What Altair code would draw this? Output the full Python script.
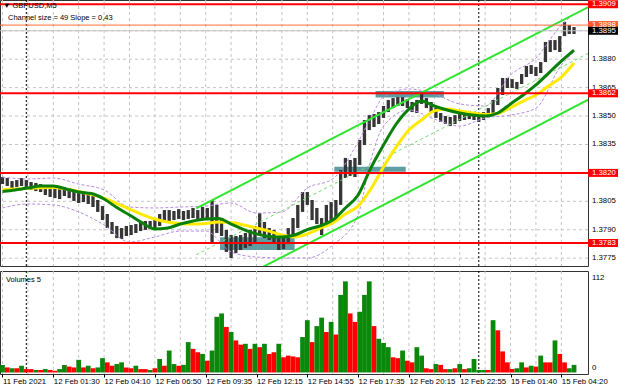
import altair as alt
import pandas as pd

FONT = "Liberation Sans"
FS = 7.8

# ---------------- data ----------------
TICK_LABELS = ["11 Feb 2021", "12 Feb 01:30", "12 Feb 04:10", "12 Feb 06:50", "12 Feb 09:35",
               "12 Feb 12:15", "12 Feb 14:55", "12 Feb 17:35", "12 Feb 20:15", "12 Feb 22:55",
               "15 Feb 01:40", "15 Feb 04:20"]
TICK_STEP = 32          # bars between time labels
GRID_STEP = 16          # bars between vertical grid lines
DAY_BREAKS = [15, 300]  # bar index of 12 Feb 00:00 and 15 Feb 00:00

PRICE_GRID = [1.3775, 1.3790, 1.3805, 1.3820, 1.3835, 1.3850, 1.3865, 1.3880, 1.3895]
PRICE_AXIS = [1.3775, 1.3790, 1.3805, 1.3835, 1.3850, 1.3865, 1.3880]

BAR_STEP = 3  # bars per drawn price / volume entry
HIGH = [1.38178, 1.38173, 1.38157, 1.38162, 1.38173, 1.38162, 1.38152, 1.38147, 1.38141, 1.38131,
        1.38120, 1.38120, 1.38115, 1.38126, 1.38120, 1.38104, 1.38099, 1.38104, 1.38094, 1.38078,
        1.38057, 1.38025, 1.37983, 1.37941, 1.37920, 1.37909, 1.37920, 1.37925, 1.37930, 1.37941,
        1.37946, 1.37946, 1.37957, 1.37983, 1.38004, 1.38004, 1.37999, 1.38009, 1.37999, 1.38004,
        1.38015, 1.38004, 1.38020, 1.38015, 1.38057, 1.38031, 1.37962, 1.37899, 1.37872, 1.37867,
        1.37872, 1.37883, 1.37899, 1.37920, 1.37988, 1.37941, 1.37909, 1.37899, 1.37867, 1.37878,
        1.37909, 1.37962, 1.38031, 1.38099, 1.38099, 1.38057, 1.38015, 1.37962, 1.38031, 1.38046,
        1.38057, 1.38215, 1.38279, 1.38268, 1.38279, 1.38374, 1.38479, 1.38505, 1.38511, 1.38521,
        1.38553, 1.38585, 1.38595, 1.38600, 1.38600, 1.38590, 1.38574, 1.38585, 1.38622, 1.38595,
        1.38574, 1.38542, 1.38516, 1.38500, 1.38495, 1.38505, 1.38516, 1.38521, 1.38527, 1.38521,
        1.38516, 1.38521, 1.38542, 1.38585, 1.38648, 1.38701, 1.38701, 1.38695, 1.38680, 1.38722,
        1.38764, 1.38769, 1.38759, 1.38785, 1.38891, 1.38901, 1.38901, 1.38922, 1.38996, 1.38980,
        1.38970]
LOW = [1.38141, 1.38131, 1.38120, 1.38126, 1.38131, 1.38120, 1.38110, 1.38104, 1.38099, 1.38083,
       1.38073, 1.38067, 1.38062, 1.38078, 1.38067, 1.38052, 1.38041, 1.38046, 1.38036, 1.38020,
       1.37994, 1.37951, 1.37909, 1.37878, 1.37856, 1.37851, 1.37867, 1.37872, 1.37883, 1.37893,
       1.37899, 1.37904, 1.37904, 1.37920, 1.37941, 1.37946, 1.37951, 1.37957, 1.37951, 1.37957,
       1.37962, 1.37957, 1.37962, 1.37951, 1.37835, 1.37883, 1.37867, 1.37783, 1.37751, 1.37777,
       1.37793, 1.37804, 1.37814, 1.37835, 1.37872, 1.37856, 1.37846, 1.37825, 1.37793, 1.37798,
       1.37825, 1.37867, 1.37909, 1.37994, 1.38031, 1.37951, 1.37930, 1.37872, 1.37925, 1.37951,
       1.37951, 1.38031, 1.38173, 1.38184, 1.38178, 1.38242, 1.38347, 1.38426, 1.38442, 1.38458,
       1.38490, 1.38521, 1.38542, 1.38553, 1.38553, 1.38542, 1.38521, 1.38516, 1.38564, 1.38542,
       1.38521, 1.38490, 1.38469, 1.38458, 1.38447, 1.38458, 1.38474, 1.38479, 1.38484, 1.38479,
       1.38469, 1.38479, 1.38495, 1.38516, 1.38558, 1.38611, 1.38648, 1.38648, 1.38643, 1.38669,
       1.38706, 1.38722, 1.38711, 1.38727, 1.38785, 1.38838, 1.38848, 1.38838, 1.38922, 1.38933,
       1.38933]
VOLUME = [9, 6, 5, 5, 8, 4, 4, 3, 3, 4,
          3, 2, 4, 9, 7, 6, 15, 6, 8, 5,
          6, 17, 12, 8, 10, 12, 6, 5, 8, 4,
          4, 3, 5, 16, 8, 26, 10, 8, 9, 36,
          28, 24, 22, 14, 26, 66, 70, 54, 48, 38,
          33, 34, 28, 34, 30, 34, 22, 24, 34, 18,
          20, 19, 18, 42, 62, 36, 55, 65, 48, 60,
          45, 92, 108, 70, 60, 72, 92, 108, 55, 40,
          35, 30, 18, 17, 26, 14, 12, 30, 20, 5,
          4, 10, 9, 4, 4, 5, 10, 4, 5, 16,
          3, 3, 3, 62, 50, 25, 12, 4, 5, 12,
          6, 8, 7, 20, 12, 12, 38, 22, 12, 5, 9]
VOL_DIR = ("grgrgrrgrg" "rrggrrgrgr" "ggrrggrrgr" "rgrgrggrgg" "rrgrgggrgr" "rgrgrgrrgr"
           "rrrggrggrg" "rggrrgggrg" "ggrrgrrggr" "rgrrgrgrgg" "ggrgrrrrgg" "rgrgrrgrrgg")

MA_STEP = 8
MA_FAST = [1.38102, 1.38110, 1.38120, 1.38131, 1.38131, 1.38115, 1.38099, 1.38091, 1.38062, 1.38017,
           1.37978, 1.37936, 1.37904, 1.37909, 1.37930, 1.37946, 1.37957, 1.37959, 1.37930, 1.37901,
           1.37878, 1.37865, 1.37862, 1.37872, 1.37901, 1.37920, 1.37951, 1.38015, 1.38083, 1.38226,
           1.38347, 1.38458, 1.38537, 1.38579, 1.38553, 1.38532, 1.38516, 1.38505, 1.38500, 1.38516,
           1.38564, 1.38611, 1.38664, 1.38727, 1.38790, 1.38848]
MA_SLOW = [1.38112, 1.38115, 1.38119, 1.38122, 1.38123, 1.38115, 1.38102, 1.38086, 1.38067, 1.38038,
           1.38009, 1.37980, 1.37957, 1.37941, 1.37932, 1.37930, 1.37933, 1.37941, 1.37938, 1.37925,
           1.37909, 1.37893, 1.37872, 1.37862, 1.37878, 1.37907, 1.37936, 1.37983, 1.38025, 1.38115,
           1.38231, 1.38337, 1.38426, 1.38479, 1.38527, 1.38537, 1.38527, 1.38516, 1.38508, 1.38513,
           1.38545, 1.38579, 1.38611, 1.38659, 1.38706, 1.38780]

BB_IDX = [0, 16, 32, 48, 64, 80, 96, 112, 128, 144, 160, 176, 192, 208, 224, 232, 240, 256, 272,
          288, 304, 320, 336, 352, 360]
BB_UP = [1.38178, 1.38168, 1.38173, 1.38141, 1.38110, 1.38020, 1.38015, 1.38020, 1.38025, 1.38041,
         1.37988, 1.37994, 1.38120, 1.38168, 1.38363, 1.38490, 1.38600, 1.38643, 1.38617, 1.38564,
         1.38553, 1.38717, 1.38806, 1.38980, 1.39038]
BB_LO = [1.38015, 1.38036, 1.38031, 1.37994, 1.37925, 1.37835, 1.37862, 1.37893, 1.37893, 1.37783,
         1.37756, 1.37751, 1.37751, 1.37819, 1.37978, 1.38268, 1.38447, 1.38532, 1.38484, 1.38447,
         1.38490, 1.38505, 1.38542, 1.38769, 1.38838]

CH_IDX = [122, 369]
CH_UPPER = [1.38013, 1.39075]
CH_LOWER = [1.37523, 1.38586]
CH_MID = [1.37768, 1.38831]

BOX_X0 = [137, 209, 235]
BOX_X1 = [184, 254, 278]
BOX_P0 = [1.37793, 1.38206, 1.38598]
BOX_P1 = [1.37860, 1.38233, 1.38632]

LEVEL_P = [1.3909, 1.3862, 1.3820, 1.3783, 1.3898, 1.3895]
LEVEL_C = ["#ff0000", "#ff0000", "#ff0000", "#ff0000", "#ff6a3a", "#c4c4c4"]
LEVEL_W = [2, 2, 2, 2, 1, 1]

TAG_P = [1.3909, 1.3898, 1.3895, 1.3862, 1.3820, 1.3783]
TAG_C = ["#ff0000", "#ff5a30", "#000000", "#ff0000", "#ff0000", "#ff0000"]

VOL_LABELS = [112, 0]
TITLE = "\u25bc GBPUSD,M5"
SUBTITLE = "Channel size = 49 Slope = 0,43"
VOL_TITLE = "Volumes 5"

# ---------------- layout ----------------
W = 588
H_PRICE = 266
H_VOL = 103
X_DOMAIN = [-1.57, 368.8]
P_DOMAIN = [1.377087, 1.391124]
V_DOMAIN = [-1.8, 120.3]

xs = alt.Scale(domain=X_DOMAIN, nice=False, zero=False)
ys = alt.Scale(domain=P_DOMAIN, nice=False, zero=False)
vs = alt.Scale(domain=V_DOMAIN, nice=False, zero=False)

GRID_COLOR = "#c4c4c4"
LIME = "#2fe62f"
DARK_GREEN = "#0a800a"
YELLOW = "#ffea00"
VIOLET = "#b98be6"
TEAL = "#5f9ea0"
VOL_GREEN = "#0a880a"
VOL_RED = "#ff0000"

n_ticks = len(TICK_LABELS)
tick_values = [TICK_STEP * k for k in range(n_ticks)]
grid_values = list(range(0, tick_values[-1] + 1, GRID_STEP))
label_array = "[" + ",".join("'" + t + "'" for t in TICK_LABELS) + "]"

grid_df = pd.DataFrame({"i": grid_values})
day_df = pd.DataFrame({"i": DAY_BREAKS})
pgrid_df = pd.DataFrame({"p": PRICE_GRID})
bar_idx = [BAR_STEP * k for k in range(len(HIGH))]
price_df = pd.DataFrame({"i": bar_idx, "hi": HIGH, "lo": LOW})
vol_df = pd.DataFrame({"i": bar_idx, "v": VOLUME, "c": list(VOL_DIR)})
ma_idx = [MA_STEP * k for k in range(len(MA_FAST))]
fast_df = pd.DataFrame({"i": ma_idx, "p": MA_FAST})
slow_df = pd.DataFrame({"i": ma_idx, "p": MA_SLOW})
bb_df = pd.concat([pd.DataFrame({"i": BB_IDX, "p": BB_UP, "s": "up"}),
                   pd.DataFrame({"i": BB_IDX, "p": BB_LO, "s": "lo"})])
ch_df = pd.concat([pd.DataFrame({"i": CH_IDX, "p": CH_UPPER, "s": "up"}),
                   pd.DataFrame({"i": CH_IDX, "p": CH_LOWER, "s": "lo"})])
mid_df = pd.DataFrame({"i": CH_IDX, "p": CH_MID})
box_df = pd.DataFrame({"x0": BOX_X0, "x1": BOX_X1, "p0": BOX_P0, "p1": BOX_P1})
lvl_df = pd.DataFrame({"p": LEVEL_P, "c": LEVEL_C, "w": LEVEL_W})
axis_df = pd.DataFrame({"p": PRICE_AXIS, "t": [f"{p:.4f}" for p in PRICE_AXIS]})
tag_df = pd.DataFrame({"p": TAG_P, "c": TAG_C, "t": [f"{p:.4f}" for p in TAG_P], "o": list(range(len(TAG_P)))})

X = lambda f: alt.X(f, scale=xs, axis=None)
Y = lambda f: alt.Y(f, scale=ys, axis=None)

vgrid = alt.Chart(grid_df).mark_rule(color=GRID_COLOR, strokeDash=[3, 3], strokeWidth=1).encode(x=X("i:Q"))
days = alt.Chart(day_df).mark_rule(color="#000000", strokeDash=[2, 2], strokeWidth=1).encode(x=X("i:Q"))
hgrid = alt.Chart(pgrid_df).mark_rule(color=GRID_COLOR, strokeDash=[3, 3], strokeWidth=1).encode(y=Y("p:Q"))
boxes = alt.Chart(box_df).mark_rect(color=TEAL).encode(x=X("x0:Q"), x2="x1:Q", y=Y("p0:Q"), y2="p1:Q")
bars = alt.Chart(price_df).mark_rule(color="#363636", strokeWidth=3.3).encode(x=X("i:Q"), y=Y("lo:Q"), y2="hi:Q")
bands = alt.Chart(bb_df).mark_line(color=VIOLET, strokeDash=[3, 2], strokeWidth=1, interpolate="monotone", clip=True).encode(
    x=X("i:Q"), y=Y("p:Q"), detail="s:N")
channel = alt.Chart(ch_df).mark_line(color=LIME, strokeWidth=2, clip=True).encode(x=X("i:Q"), y=Y("p:Q"), detail="s:N")
mid = alt.Chart(mid_df).mark_line(color="#6ee06e", strokeWidth=1, strokeDash=[3, 3], clip=True).encode(x=X("i:Q"), y=Y("p:Q"))
slow = alt.Chart(slow_df).mark_line(color=YELLOW, strokeWidth=3, interpolate="monotone").encode(x=X("i:Q"), y=Y("p:Q"))
fast = alt.Chart(fast_df).mark_line(color=DARK_GREEN, strokeWidth=3, interpolate="monotone").encode(x=X("i:Q"), y=Y("p:Q"))
levels = alt.Chart(lvl_df).mark_rule().encode(
    y=Y("p:Q"), color=alt.Color("c:N", scale=None), strokeWidth=alt.StrokeWidth("w:Q", scale=None))
axis_txt = alt.Chart(axis_df).mark_text(align="left", baseline="middle", font=FONT, fontSize=FS, color="#000000").encode(
    x=alt.value(592), y=Y("p:Q"), text="t:N")
BOX_SHAPE = "M-1,-0.2667L1,-0.2667L1,0.2667L-1,0.2667Z"
tag_box = alt.Chart(tag_df).mark_point(shape=BOX_SHAPE, filled=True, opacity=1, size=900, strokeWidth=0).encode(
    x=alt.value(603), y=Y("p:Q"), color=alt.Color("c:N", scale=None), order="o:Q")
tag_txt = alt.Chart(tag_df).mark_text(align="left", baseline="middle", font=FONT, fontSize=FS, color="#ffffff").encode(
    x=alt.value(592), y=Y("p:Q"), text="t:N", order="o:Q")
title = alt.Chart(pd.DataFrame({"t": [TITLE]})).mark_text(
    align="left", baseline="middle", font=FONT, fontSize=7.5, color="#000000").encode(
    x=alt.value(3), y=alt.value(6), text="t:N")
subtitle = alt.Chart(pd.DataFrame({"t": [SUBTITLE]})).mark_text(
    align="left", baseline="middle", font=FONT, fontSize=7.5, color="#000000").encode(
    x=alt.value(8), y=alt.value(18), text="t:N")

price_chart = alt.layer(vgrid, hgrid, days, boxes, bars, bands, mid, channel, slow, fast, levels,
                        axis_txt, tag_box, tag_txt, title, subtitle).properties(width=W, height=H_PRICE)

xaxis = alt.Axis(values=tick_values, labelExpr=label_array + "[round(datum.value/" + str(TICK_STEP) + ")]",
                 grid=False, domain=False, ticks=True, tickSize=3, tickColor="#000000", title=None,
                 labelFont=FONT, labelFontSize=FS, labelColor="#000000", labelAlign="left",
                 labelBaseline="top", labelPadding=0, labelOverlap=False, labelFlush=False, labelBound=False)
XV = lambda f: alt.X(f, scale=xs, axis=xaxis)
YV = lambda f: alt.Y(f, scale=vs, axis=None)

v_grid = alt.Chart(grid_df).mark_rule(color=GRID_COLOR, strokeDash=[3, 3], strokeWidth=1).encode(x=XV("i:Q"))
v_days = alt.Chart(day_df).mark_rule(color="#000000", strokeDash=[2, 2], strokeWidth=1).encode(x=XV("i:Q"))
v_bars = alt.Chart(vol_df).transform_calculate(
    x0="datum.i - " + str(BAR_STEP / 2), x1="datum.i + " + str(BAR_STEP / 2)
).mark_rect().encode(
    x=XV("x0:Q"), x2="x1:Q", y=YV("v:Q"), y2=alt.datum(0),
    color=alt.Color("c:N", scale=alt.Scale(domain=["g", "r"], range=[VOL_GREEN, VOL_RED]), legend=None))
v_title = alt.Chart(pd.DataFrame({"t": [VOL_TITLE]})).mark_text(
    align="left", baseline="middle", font=FONT, fontSize=7.5, color="#000000").encode(
    x=alt.value(6), y=alt.value(8.5), text="t:N")
v_top = alt.Chart(pd.DataFrame({"v": [VOL_LABELS[0]], "t": [str(VOL_LABELS[0])]})).mark_text(
    align="left", baseline="middle", font=FONT, fontSize=FS, color="#000000").encode(
    x=alt.value(592), y=YV("v:Q"), text="t:N")
v_zero = alt.Chart(pd.DataFrame({"v": [VOL_LABELS[1]], "t": [str(VOL_LABELS[1])]})).mark_text(
    align="left", baseline="middle", font=FONT, fontSize=FS, color="#000000", dy=-4.5).encode(
    x=alt.value(592), y=YV("v:Q"), text="t:N")

vol_chart = alt.layer(v_grid, v_days, v_bars, v_title, v_top, v_zero).properties(width=W, height=H_VOL)

chart = alt.vconcat(price_chart, vol_chart, spacing=3).properties(
    padding={"left": -5, "top": -1, "right": 0, "bottom": 0}, background="#ffffff"
).configure_view(stroke="#333333", strokeWidth=1)

chart.save("out.html", embed_options={"renderer": "svg", "actions": False})
